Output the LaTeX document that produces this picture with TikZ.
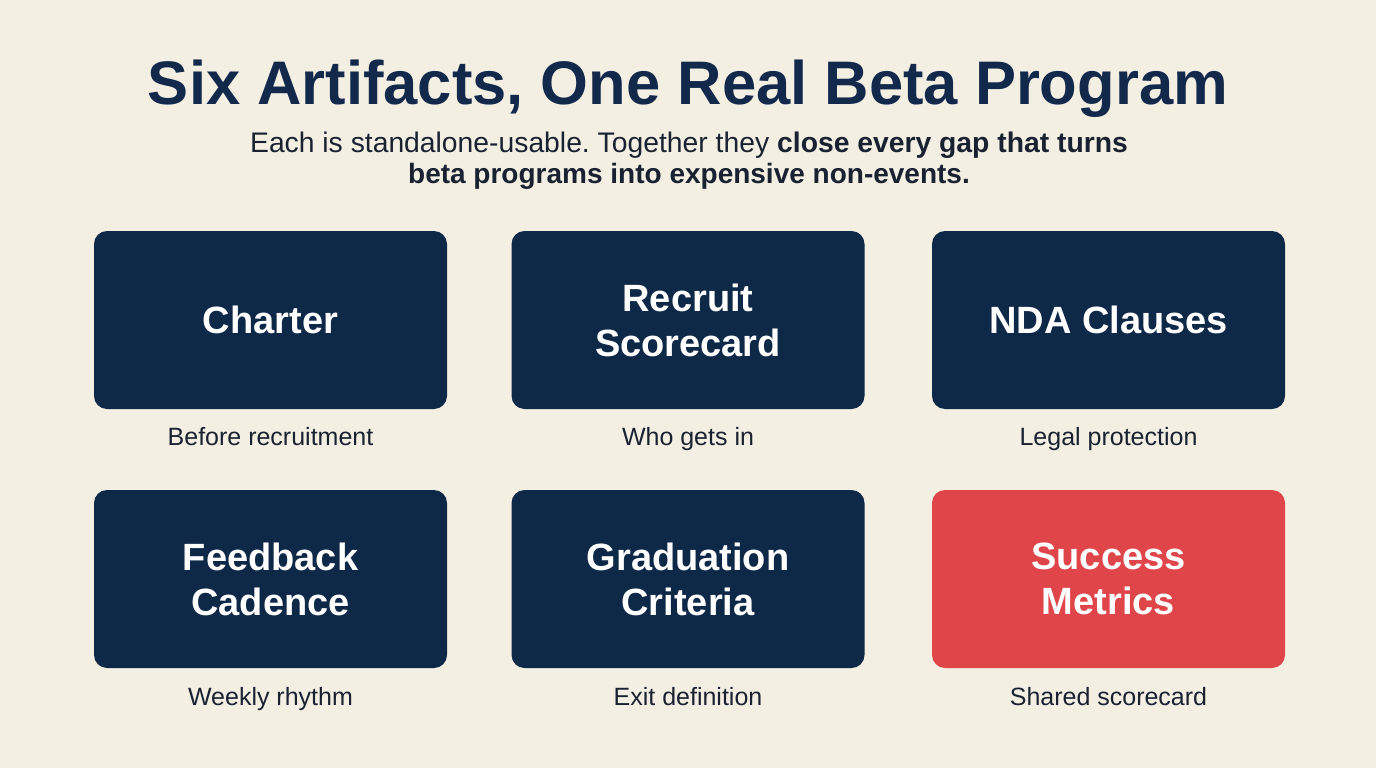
\documentclass[tikz,border=0pt]{standalone}
\usepackage{fontspec}
\setmainfont{Liberation Sans}
\frenchspacing
\definecolor{bg}{HTML}{F3EFE3}
\definecolor{navy}{HTML}{0E2848}
\definecolor{redbox}{HTML}{E0454A}
\definecolor{titlec}{HTML}{13294B}
\definecolor{txt}{HTML}{1A2232}
\tikzset{
  card/.style={fill=navy, rounded corners=13pt, minimum width=353pt, minimum height=178pt, inner sep=0pt,
    text=white, align=center, font=\fontsize{38}{45}\selectfont\bfseries},
  hot/.style={card, fill=redbox},
  caption/.style={text=txt, font=\fontsize{25}{30}\selectfont, inner sep=0pt, anchor=base}
}
\begin{document}
\begin{tikzpicture}[x=1pt,y=-1pt]
\fill[bg] (0,0) rectangle (1376,768);
\useasboundingbox (0,0) rectangle (1376,768);
\node[text=titlec, font=\fontsize{61.5}{70}\selectfont\bfseries, inner sep=0pt, anchor=base] (title) at (688,104) {Six Artifacts, One Real Beta Program};
\node[text=txt, font=\fontsize{28.3}{31}\selectfont, inner sep=0pt, anchor=base] (sub1) at (689,152) {Each is standalone-usable. Together they \textbf{close every gap that turns}};
\node[text=txt, font=\fontsize{28}{31}\selectfont\bfseries, inner sep=0pt, anchor=base] (sub2) at (689,183) {beta programs into expensive non-events.};
% row 1
\node[card] (c1) at (270.5,320) {Charter};
\node[card] (c2) at (688,320) {Recruit\\Scorecard};
\node[card] (c3) at (1108.5,320) {NDA Clauses};
\node[caption] (l1) at (270.5,445) {Before recruitment};
\node[caption] (l2) at (688,445) {Who gets in};
\node[caption] (l3) at (1108.5,445) {Legal protection};
% row 2
\node[card] (c4) at (270.5,579) {Feedback\\Cadence};
\node[card] (c5) at (688,579) {Graduation\\Criteria};
\node[hot] (c6) at (1108.5,579) {Success\\Metrics};
\node[caption] (l4) at (270.5,705) {Weekly rhythm};
\node[caption] (l5) at (688,705) {Exit definition};
\node[caption] (l6) at (1108.5,705) {Shared scorecard};
\end{tikzpicture}
\end{document}
